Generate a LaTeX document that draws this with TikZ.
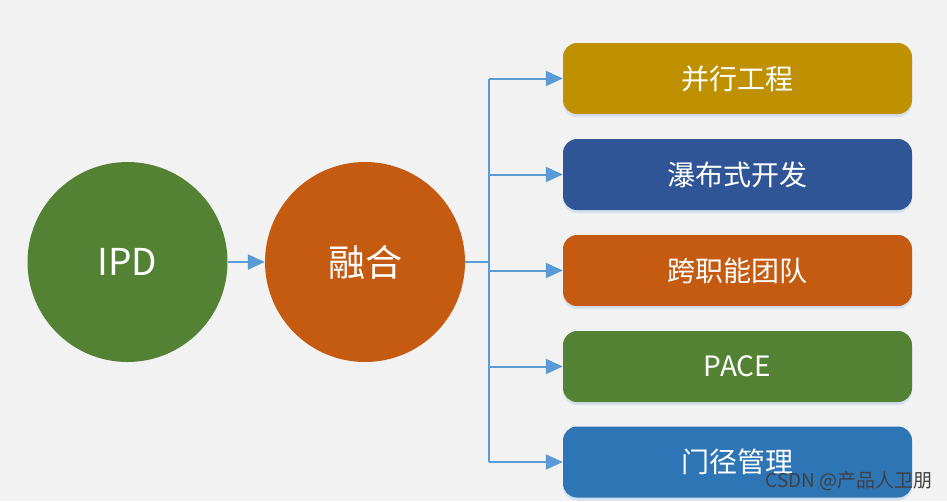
\documentclass[tikz,border=0pt]{standalone}
\usepackage{fontspec}
\setmainfont{Noto Sans CJK SC}
\usetikzlibrary{arrows.meta,shadows}
\definecolor{bg}{HTML}{F2F2F2}
\definecolor{cgreen}{HTML}{548235}
\definecolor{corange}{HTML}{C55A11}
\definecolor{cgold}{HTML}{BF9000}
\definecolor{cdblue}{HTML}{2F5597}
\definecolor{cblue}{HTML}{2E75B6}
\definecolor{cline}{HTML}{5B9BD5}
\begin{document}
\begin{tikzpicture}[x=1pt,y=-1pt,
  bigcircle/.style={circle,minimum size=200pt,inner sep=0pt,text=white,font=\fontsize{37}{40}\selectfont},
  itembox/.style={rectangle,rounded corners=14pt,minimum width=349pt,minimum height=71pt,inner sep=0pt,text=white,font=\fontsize{28}{30}\selectfont,
    drop shadow={shadow xshift=0pt,shadow yshift=-3pt,opacity=0.35,fill=cline!60}},
  link/.style={draw=cline,line width=2pt},
  arrowlink/.style={link,-{Triangle[length=17pt,width=15pt]}}]
\fill[bg] (0,0) rectangle (947,501);
\useasboundingbox (0,0) rectangle (947,501);

\node[bigcircle,fill=cgreen] (ipd) at (127.5,262) {IPD};
\node[bigcircle,fill=corange] (rh) at (365,262) {融合};

\node[itembox,fill=cgold] (b1) at (737.5,78.5) {并行工程};
\node[itembox,fill=cdblue] (b2) at (737.5,174.5) {瀑布式开发};
\node[itembox,fill=corange] (b3) at (737.5,270.5) {跨职能团队};
\node[itembox,fill=cgreen] (b4) at (737.5,366.5) {PACE};
\node[itembox,fill=cblue] (b5) at (737.5,462) {门径管理};

\coordinate (j) at (489,262);

\draw[arrowlink] (ipd) -- (rh);
\draw[link] (rh.east) -- (j);
\draw[link] (j |- b1.west) -- (j |- b5.west);
\foreach \b in {b1,b2,b3,b4,b5}{
  \draw[arrowlink] (j |- \b.west) -- (\b.west);
}

\node[text=black!75,font=\fontsize{19}{22}\selectfont,anchor=east,inner sep=0pt] (wm) at (933,481) {CSDN @产品人卫朋};
\end{tikzpicture}
\end{document}
